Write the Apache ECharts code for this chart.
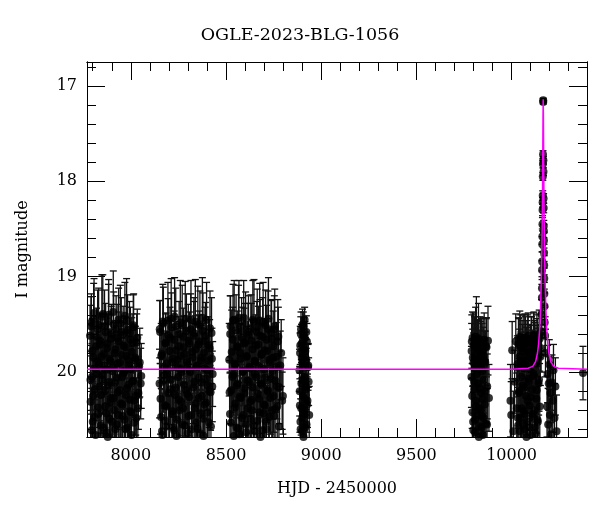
<!DOCTYPE html>
<html>
<head>
<meta charset="utf-8">
<script src="https://cdn.jsdelivr.net/npm/echarts@6/dist/echarts.min.js"></script>
<style>html,body{margin:0;padding:0;background:#fff}#c{width:600px;height:512px}</style>
</head>
<body>
<div id="c"></div>
<script>
const TITLE = 'OGLE-2023-BLG-1056';
const XNAME = 'HJD - 2450000';
const YNAME = 'I magnitude';
const XMIN = 7770, XMAX = 10396;
const YMIN = 16.75, YMAX = 20.68;
const xMajor = [8000, 8500, 9000, 9500, 10000];
const xMinor = [7800,7900,8100,8200,8300,8400,8600,8700,8800,8900,9100,9200,9300,9400,9600,9700,9800,9900,10100,10200,10300];
const yMajor = [17, 18, 19, 20];
const yMinor = [16.8,17.2,17.4,17.6,17.8,18.2,18.4,18.6,18.8,19.2,19.4,19.6,19.8,20.2,20.4,20.6];

// season 1
const t1 = [7786,7789,7793,7796,7800,7804,7807,7811,7815,7818,7822,7826,7829,7833,7837,7840,7844,7848,7851,7855,7859,7862,7866,7870,7873,7877,7881,7884,7888,7892,7895,7899,7903,7906,7910,7914,7917,7921,7925,7928,7932,7936,7939,7943,7947,7950,7954,7958,7961,7965,7969,7972,7976,7980,7983,7987,7991,7994,7998,8002,8005,8009,8013,8017,8021,8026,8031,8037,8044,8052];
const m1 = [19.62,20.31,19.48,20.05,20.52,19.85,19.38,20.18,20.66,19.73,20.02,19.55,20.44,19.92,20.71,19.67,20.24,19.42,20.08,20.58,19.81,19.52,20.36,19.97,20.63,19.70,20.14,19.40,20.49,19.88,20.27,19.60,20.77,19.95,19.50,20.40,20.11,19.76,20.55,19.64,20.21,19.45,20.69,19.90,20.33,19.58,20.05,20.46,19.72,19.99,19.41,20.60,19.83,20.17,19.56,20.74,19.93,20.29,19.66,20.42,19.79,20.10,19.51,20.53,19.87,20.25,19.69,20.38,19.94,20.12];
const e1 = [0.32,0.38,0.30,0.35,0.42,0.33,0.36,0.40,0.45,0.31,0.37,0.41,0.39,0.34,0.46,0.29,0.40,0.44,0.36,0.43,0.32,0.38,0.41,0.35,0.47,0.30,0.39,0.37,0.42,0.33,0.40,0.31,0.48,0.36,0.34,0.44,0.38,0.30,0.43,0.35,0.39,0.33,0.46,0.32,0.41,0.36,0.34,0.45,0.31,0.30,0.35,0.42,0.33,0.39,0.37,0.47,0.31,0.40,0.34,0.43,0.36,0.38,0.32,0.44,0.35,0.41,0.30,0.42,0.33,0.37];
const t1b = [7788,7791,7795,7798,7802,7805,7809,7813,7816,7820,7824,7828,7831,7835,7839,7842,7846,7850,7853,7857,7861,7864,7868,7872,7875,7879,7883,7886,7890,7894,7897,7901,7905,7908,7912,7916,7919,7923,7927,7930,7934,7938,7941,7945,7949,7952,7956,7960,7963,7967,7971,7974,7978,7982,7985,7989,7993,7996,8000,8004,8007,8011,8015,8019,8024,8029,8034,8040,8047,8055];
const m1b = [20.08,19.52,20.61,19.78,20.25,19.44,20.47,19.96,20.70,19.63,19.89,20.37,19.50,20.15,19.71,20.56,19.84,20.03,19.39,20.64,19.93,20.20,19.58,20.43,19.75,20.68,19.47,20.11,19.86,20.32,19.65,20.52,19.99,19.37,20.27,19.80,20.60,19.55,20.06,19.91,20.45,19.68,20.19,19.49,20.73,19.82,20.34,19.61,20.01,20.50,19.74,20.24,19.46,20.58,19.87,20.13,19.59,20.41,19.97,20.66,19.70,20.09,19.53,20.30,19.85,20.48,19.64,20.22,19.90,20.04];
const e1b = [0.36,0.31,0.44,0.34,0.39,0.37,0.42,0.33,0.47,0.30,0.35,0.40,0.38,0.36,0.32,0.45,0.34,0.37,0.41,0.43,0.33,0.38,0.30,0.42,0.36,0.46,0.39,0.35,0.31,0.40,0.34,0.44,0.37,0.43,0.38,0.32,0.45,0.35,0.36,0.33,0.41,0.31,0.39,0.40,0.48,0.34,0.42,0.30,0.37,0.43,0.32,0.38,0.44,0.41,0.35,0.36,0.33,0.40,0.34,0.46,0.31,0.37,0.35,0.39,0.33,0.42,0.30,0.38,0.36,0.34];
// season 2
const t2 = [8151,8154,8159,8163,8166,8171,8174,8179,8182,8187,8190,8195,8198,8203,8206,8211,8214,8219,8222,8227,8230,8235,8238,8243,8246,8251,8254,8259,8262,8267,8270,8275,8278,8283,8286,8291,8294,8299,8302,8307,8310,8315,8318,8323,8326,8331,8334,8339,8342,8347,8350,8355,8358,8363,8366,8371,8374,8379,8382,8387,8390,8395,8398,8403,8406,8411,8414,8419,8424,8430];
const m2 = [20.12,19.58,20.47,19.81,20.66,19.49,20.03,20.35,19.70,20.57,19.91,19.46,20.22,20.73,19.64,20.08,19.53,20.41,19.86,20.61,19.42,20.16,19.77,20.50,19.95,20.29,19.60,20.69,19.83,20.00,19.51,20.38,19.74,20.56,19.44,20.19,19.89,20.64,19.67,20.26,19.98,19.55,20.45,19.79,20.70,19.62,20.10,19.47,20.33,19.93,20.59,19.71,20.06,19.50,20.43,19.85,20.25,19.57,20.67,19.96,19.68,20.32,19.45,20.14,19.88,20.53,19.75,20.21,19.59,20.02];
const e2 = [0.36,0.33,0.41,0.30,0.44,0.38,0.35,0.42,0.31,0.46,0.34,0.40,0.37,0.48,0.32,0.39,0.36,0.43,0.33,0.45,0.41,0.35,0.30,0.44,0.37,0.40,0.34,0.47,0.31,0.38,0.42,0.36,0.33,0.45,0.39,0.35,0.32,0.46,0.38,0.41,0.34,0.37,0.43,0.30,0.48,0.36,0.39,0.44,0.40,0.33,0.45,0.31,0.37,0.35,0.42,0.34,0.38,0.40,0.46,0.32,0.36,0.41,0.39,0.35,0.33,0.44,0.30,0.40,0.37,0.34];
const t2b = [8152,8156,8160,8164,8168,8172,8176,8180,8184,8188,8192,8196,8200,8204,8208,8212,8216,8220,8224,8228,8232,8236,8240,8244,8248,8252,8256,8260,8264,8268,8272,8276,8280,8284,8288,8292,8296,8300,8304,8308,8312,8316,8320,8324,8328,8332,8336,8340,8344,8348,8352,8356,8360,8364,8368,8372,8376,8380,8384,8388,8392,8396,8400,8404,8408,8412,8416,8421,8426,8428];
const m2b = [19.55,20.28,19.83,20.62,19.47,20.09,19.95,20.51,19.69,20.36,20.02,19.61,20.71,19.78,20.18,19.44,20.44,19.90,20.58,19.66,20.24,19.52,20.67,19.87,20.05,19.73,20.40,19.48,20.31,19.97,20.55,19.63,20.13,19.81,20.69,19.57,20.23,19.92,20.46,19.70,20.00,19.45,20.60,19.85,20.16,19.59,20.38,19.76,20.53,19.94,19.50,20.27,19.68,20.64,19.88,20.11,19.43,20.49,19.80,20.34,19.62,20.07,19.98,20.42,19.72,20.20,19.54,20.57,19.86,20.15];
const e2b = [0.30,0.37,0.34,0.44,0.39,0.33,0.36,0.41,0.31,0.40,0.35,0.38,0.46,0.32,0.37,0.42,0.39,0.34,0.43,0.30,0.38,0.40,0.47,0.33,0.35,0.31,0.41,0.44,0.36,0.34,0.43,0.30,0.37,0.35,0.48,0.39,0.36,0.32,0.42,0.33,0.34,0.41,0.45,0.31,0.38,0.37,0.40,0.35,0.44,0.33,0.40,0.36,0.32,0.46,0.34,0.37,0.42,0.39,0.31,0.41,0.35,0.33,0.36,0.43,0.30,0.38,0.39,0.45,0.32,0.37];
// season 3
const t3 = [8517,8521,8524,8528,8532,8536,8539,8543,8547,8551,8555,8559,8562,8566,8570,8574,8578,8582,8585,8589,8593,8597,8601,8605,8608,8612,8616,8620,8624,8628,8631,8635,8639,8643,8647,8651,8654,8658,8662,8666,8670,8674,8677,8681,8685,8689,8693,8697,8700,8704,8708,8712,8716,8720,8723,8727,8731,8735,8739,8743,8746,8750,8754,8758,8762,8767,8772,8778,8785,8795];
const m3 = [19.87,20.44,19.52,20.19,20.70,19.66,20.03,19.45,20.37,19.92,20.58,19.73,20.12,19.49,20.65,19.80,20.27,19.57,20.48,19.99,19.43,20.22,19.69,20.55,19.84,20.09,19.61,20.74,19.94,20.31,19.54,20.40,19.76,20.16,19.47,20.62,19.89,20.05,19.58,20.51,19.71,20.28,19.46,20.68,19.82,20.13,19.63,20.43,19.97,20.35,19.51,20.60,19.78,20.20,19.44,20.47,19.90,20.07,19.65,20.72,19.85,20.25,19.55,20.39,19.95,20.15,19.68,20.57,19.93,20.30];
const e3 = [0.38,0.43,0.32,0.36,0.47,0.34,0.39,0.41,0.35,0.30,0.44,0.37,0.33,0.40,0.46,0.31,0.38,0.35,0.42,0.36,0.39,0.34,0.41,0.45,0.30,0.37,0.33,0.48,0.36,0.40,0.35,0.42,0.31,0.38,0.44,0.43,0.34,0.37,0.32,0.45,0.40,0.36,0.39,0.47,0.33,0.35,0.41,0.38,0.30,0.42,0.37,0.46,0.34,0.31,0.43,0.39,0.36,0.33,0.40,0.48,0.32,0.38,0.35,0.41,0.37,0.34,0.44,0.39,0.36,0.30];
const t3b = [8519,8522,8526,8530,8534,8537,8541,8545,8549,8553,8557,8560,8564,8568,8572,8576,8580,8583,8587,8591,8595,8599,8603,8606,8610,8614,8618,8622,8626,8629,8633,8637,8641,8645,8649,8652,8656,8660,8664,8668,8672,8675,8679,8683,8687,8691,8695,8698,8702,8706,8710,8714,8718,8721,8725,8729,8733,8737,8741,8744,8748,8752,8756,8760,8764,8769,8775,8781,8790,8799];
const m3b = [20.21,19.60,20.53,19.79,20.05,19.46,20.67,19.91,20.33,19.56,20.14,19.74,20.59,19.43,20.26,19.86,20.72,19.64,20.00,20.45,19.70,20.17,19.50,20.63,19.83,20.38,19.58,20.10,19.96,20.49,19.67,20.29,19.45,20.56,19.88,20.02,19.72,20.69,19.53,20.23,19.94,20.42,19.62,20.12,19.81,20.61,19.48,20.34,19.77,20.06,20.52,19.66,20.19,19.55,20.71,19.87,20.27,19.59,20.40,19.99,19.73,20.46,19.52,20.09,19.84,20.36,19.63,20.16,19.80,20.25];
const e3b = [0.33,0.40,0.36,0.44,0.31,0.38,0.46,0.35,0.42,0.37,0.34,0.30,0.45,0.39,0.41,0.36,0.48,0.32,0.35,0.43,0.37,0.40,0.34,0.47,0.31,0.42,0.38,0.36,0.33,0.44,0.39,0.35,0.41,0.45,0.30,0.37,0.32,0.46,0.40,0.36,0.34,0.43,0.38,0.35,0.31,0.44,0.42,0.39,0.33,0.37,0.41,0.36,0.34,0.40,0.47,0.32,0.38,0.35,0.43,0.30,0.37,0.42,0.39,0.33,0.36,0.44,0.31,0.38,0.35,0.40];
// season 4
const t4 = [8886,8888,8890,8892,8894,8896,8898,8900,8902,8904,8905,8907,8909,8911,8913,8915,8917,8919,8921,8923,8925,8928,8931,8934,8937];
const m4 = [19.98,20.35,19.72,20.60,19.55,20.12,19.85,20.48,19.50,20.25,19.92,20.68,19.62,20.05,19.45,20.40,19.78,20.18,19.88,20.55,19.68,20.30,19.95,20.10,20.45];
const e4 = [0.22,0.28,0.20,0.32,0.18,0.25,0.21,0.30,0.16,0.26,0.23,0.34,0.19,0.24,0.13,0.29,0.20,0.27,0.22,0.31,0.19,0.28,0.24,0.25,0.30];
const t4b = [8887,8889,8891,8893,8895,8897,8899,8901,8903,8906,8908,8910,8912,8914,8916,8918,8920,8922,8926,8932];
const m4b = [20.20,19.80,20.52,19.60,20.38,19.70,20.62,19.90,20.08,19.52,20.44,19.75,20.28,19.64,20.58,19.85,20.15,19.58,20.34,19.93];
const e4b = [0.26,0.21,0.31,0.18,0.28,0.20,0.33,0.22,0.25,0.15,0.30,0.19,0.27,0.17,0.32,0.21,0.24,0.17,0.29,0.23];
// season 5
const t5 = [9789,9791,9794,9796,9799,9801,9804,9806,9809,9811,9814,9816,9819,9821,9824,9826,9829,9831,9834,9836,9839,9841,9844,9846,9849,9851,9854,9856,9859,9862,9865,9868,9872,9876,9881];
const m5 = [20.05,19.68,20.42,19.85,20.61,19.72,20.18,19.96,20.50,19.63,20.30,19.88,20.70,19.76,20.12,19.65,20.38,19.92,20.57,19.80,20.22,19.70,20.46,19.99,20.66,19.83,20.08,19.66,20.34,19.90,20.54,19.74,20.15,19.67,20.27];
const e5 = [0.32,0.28,0.36,0.30,0.40,0.34,0.33,0.29,0.38,0.31,0.35,0.27,0.42,0.30,0.34,0.37,0.36,0.29,0.39,0.33,0.31,0.26,0.37,0.32,0.41,0.30,0.35,0.28,0.36,0.33,0.40,0.31,0.34,0.36,0.35];
const t5b = [9790,9793,9795,9798,9800,9803,9805,9808,9810,9813,9815,9818,9820,9823,9825,9828,9830,9833,9835,9838,9840,9843,9845,9848,9850,9853,9857,9861,9866,9871];
const m5b = [19.78,20.25,19.64,20.52,19.90,20.10,19.70,20.63,19.84,20.36,19.66,20.02,19.93,20.45,19.74,20.68,19.87,20.17,19.69,20.40,19.96,20.58,19.79,20.28,19.71,20.48,19.88,20.20,19.73,20.55];
const e5b = [0.29,0.34,0.27,0.38,0.31,0.33,0.28,0.41,0.30,0.36,0.45,0.32,0.30,0.37,0.29,0.40,0.31,0.34,0.27,0.38,0.32,0.39,0.30,0.35,0.28,0.37,0.31,0.33,0.29,0.38];
// season 6, before the event
const t6 = [9994,9998,10003,10009,10016,10022,10027,10031,10034,10037,10040,10043,10046,10049,10052,10055,10058,10061,10064,10067,10070,10073,10076,10079,10082,10085,10088,10091,10094,10097,10100,10103,10106,10109,10112,10115,10118,10121,10124,10127,10130,10133,10136,10139,10142,10145,10148,10151];
const m6 = [20.30,20.45,19.77,20.62,20.10,19.68,20.38,19.95,20.56,19.72,20.20,19.63,20.48,19.88,20.69,19.75,20.14,19.66,20.41,19.92,20.60,19.70,20.25,19.83,20.52,19.65,20.07,19.79,20.35,19.97,20.66,19.69,20.18,19.86,20.44,19.62,20.02,19.74,20.58,19.90,20.28,19.67,20.50,19.80,20.12,19.60,20.36,19.84];
const e6 = [0.38,0.35,0.30,0.42,0.33,0.29,0.37,0.31,0.40,0.28,0.34,0.27,0.39,0.30,0.44,0.29,0.33,0.26,0.38,0.31,0.41,0.28,0.35,0.30,0.40,0.25,0.33,0.29,0.37,0.31,0.43,0.27,0.34,0.30,0.38,0.24,0.32,0.28,0.41,0.30,0.36,0.27,0.39,0.29,0.33,0.25,0.37,0.30];
const t6b = [10030,10033,10036,10039,10042,10045,10048,10051,10054,10057,10060,10063,10066,10069,10072,10075,10078,10081,10084,10087,10090,10093,10096,10099,10102,10105,10108,10111,10114,10117,10120,10123,10126,10129,10132,10135,10138,10141,10144,10147];
const m6b = [19.92,20.48,19.70,20.22,19.84,20.62,19.66,20.05,20.38,19.78,20.55,19.96,20.16,19.64,20.44,19.88,20.68,19.73,20.30,19.62,20.10,19.94,20.58,19.80,20.26,19.68,20.47,19.86,20.04,19.61,20.40,19.76,20.64,19.91,20.19,19.71,20.52,19.83,20.08,19.65];
const e6b = [0.30,0.39,0.27,0.34,0.29,0.42,0.26,0.32,0.37,0.28,0.40,0.31,0.34,0.25,0.38,0.30,0.44,0.27,0.36,0.24,0.33,0.30,0.41,0.29,0.35,0.26,0.39,0.29,0.32,0.24,0.37,0.28,0.42,0.30,0.34,0.27,0.40,0.29,0.33,0.26];
// the event
const tEv = [10155,10157,10158,10159,10159.5,10160,10160.5,10161,10161.5,10162,10162.5,10163,10163.5,10164,10164.5,10165,10166,10166.3,10167,10167.5,10168,10168.5,10169,10169.5,10170,10170.5,10171,10171.5,10172,10173,10174,10176,10178];
const mEv = [19.75,19.58,19.40,19.22,19.12,18.93,18.84,18.66,18.58,18.45,18.30,18.22,18.15,17.95,17.82,17.72,17.15,17.17,17.78,17.90,18.18,18.28,18.47,18.52,18.62,18.75,18.88,19.02,19.18,19.31,19.48,19.62,19.80];
const eEv = [0.25,0.20,0.16,0.14,0.12,0.10,0.10,0.08,0.08,0.07,0.06,0.05,0.05,0.04,0.04,0.04,0.02,0.02,0.04,0.04,0.05,0.05,0.06,0.07,0.08,0.09,0.10,0.11,0.12,0.14,0.16,0.20,0.25];
// season 6, after the event
const t7 = [10186,10189,10192,10195,10198,10201,10204,10208,10212,10216,10220,10225,10230,10236];
const m7 = [20.36,20.02,20.55,20.12,19.92,20.45,20.22,20.65,20.11,20.30,19.98,20.48,20.15,20.62];
const e7 = [0.32,0.30,0.38,0.28,0.26,0.35,0.31,0.40,0.29,0.33,0.27,0.36,0.30,0.38];
// lone late point
const t8 = [10375];
const m8 = [20.01];
const e8 = [0.28];

// model light curve
const tModel = [7770,10000,10086,10111,10126,10136,10142,10148,10152,10156,10159,10161,10162,10163,10164,10165,10166,10167,10168,10169,10170,10171,10173,10176,10180,10184,10190,10196,10206,10221,10246,10396];
const mModel = [19.97,19.97,19.96,19.94,19.89,19.80,19.70,19.53,19.34,19.05,18.71,18.39,18.19,17.94,17.64,17.31,17.14,17.31,17.64,17.94,18.19,18.39,18.71,19.05,19.34,19.53,19.70,19.80,19.89,19.94,19.96,19.97];

const FONT = 'DejaVu Serif';
const groups = [[t1,m1,e1],[t1b,m1b,e1b],[t2,m2,e2],[t2b,m2b,e2b],[t3,m3,e3],[t3b,m3b,e3b],[t4,m4,e4],[t4b,m4b,e4b],[t5,m5,e5],[t5b,m5b,e5b],[t6,m6,e6],[t6b,m6b,e6b],[tEv,mEv,eEv],[t7,m7,e7],[t8,m8,e8]];
const obs = [];
groups.forEach(g => g[0].forEach((t, i) => obs.push([t, g[1][i], g[2][i]])));
const model = tModel.map((t, i) => [t, mModel[i]]);

function xAx(pos, ticks, len, labels, extra) {
  return Object.assign({
    type: 'value', position: pos, min: XMIN, max: XMAX,
    axisLine: { show: true, onZero: false, lineStyle: { color: '#000', width: 1 } },
    axisTick: { show: true, inside: true, length: len, customValues: ticks, lineStyle: { color: '#000', width: 1 } },
    axisLabel: labels ? { show: true, customValues: ticks, formatter: v => String(v), color: '#000', fontFamily: FONT, fontSize: 16, margin: 11 } : { show: false },
    splitLine: { show: false }, minorTick: { show: false }
  }, extra || {});
}
function yAx(pos, ticks, len, labels, extra) {
  return Object.assign({
    type: 'value', position: pos, min: YMIN, max: YMAX, inverse: true,
    axisLine: { show: true, onZero: false, lineStyle: { color: '#000', width: 1 } },
    axisTick: { show: true, inside: true, length: len, customValues: ticks, lineStyle: { color: '#000', width: 1 } },
    axisLabel: labels ? { show: true, customValues: ticks, formatter: v => String(v), color: '#000', fontFamily: FONT, fontSize: 16, margin: 10 } : { show: false },
    splitLine: { show: false }, minorTick: { show: false }
  }, extra || {});
}

const chart = echarts.init(document.getElementById('c'), null, { renderer: 'canvas' });
chart.setOption({
  animation: false,
  backgroundColor: '#fff',
  title: { text: TITLE, left: 'center', top: 26, textStyle: { fontFamily: FONT, fontSize: 17.5, fontWeight: 'normal', color: '#000' }, padding: 0 },
  grid: { left: 87, right: 13, top: 62, bottom: 75 },
  xAxis: [
    xAx('bottom', xMajor, 18, true, { name: XNAME, nameLocation: 'middle', nameGap: 44, nameTextStyle: { fontFamily: FONT, fontSize: 16, color: '#000' } }),
    xAx('bottom', xMinor, 9, false),
    xAx('top', xMajor, 18, false),
    xAx('top', xMinor, 9, false)
  ],
  yAxis: [
    yAx('left', yMajor, 18, true, { name: YNAME, nameLocation: 'middle', nameGap: 56, nameRotate: 90, nameTextStyle: { fontFamily: FONT, fontSize: 16, color: '#000' } }),
    yAx('left', yMinor, 9, false),
    yAx('right', yMajor, 18, false),
    yAx('right', yMinor, 9, false)
  ],
  series: [
    {
      type: 'custom', xAxisIndex: 0, yAxisIndex: 0, clip: true, z: 2,
      data: obs,
      encode: { x: 0, y: 1 },
      renderItem: function (params, api) {
        const t = api.value(0), m = api.value(1), e = api.value(2);
        const a = api.coord([t, m - e]);
        const b = api.coord([t, m + e]);
        const c = 3.5;
        const st = { stroke: '#111', lineWidth: 1.3 };
        return { type: 'group', children: [
          { type: 'line', shape: { x1: a[0], y1: a[1], x2: b[0], y2: b[1] }, style: st },
          { type: 'line', shape: { x1: a[0] - c, y1: a[1], x2: a[0] + c, y2: a[1] }, style: st },
          { type: 'line', shape: { x1: b[0] - c, y1: b[1], x2: b[0] + c, y2: b[1] }, style: st }
        ] };
      }
    },
    {
      type: 'scatter', xAxisIndex: 0, yAxisIndex: 0, z: 3,
      data: obs.map(p => [p[0], p[1]]),
      symbol: 'circle', symbolSize: 8,
      itemStyle: { color: '#000' }
    },
    {
      type: 'line', xAxisIndex: 0, yAxisIndex: 0, z: 4,
      data: model, showSymbol: false, symbol: 'none', smooth: false,
      lineStyle: { color: '#ff00ff', width: 1.5 }
    }
  ]
});
</script>
</body>
</html>
